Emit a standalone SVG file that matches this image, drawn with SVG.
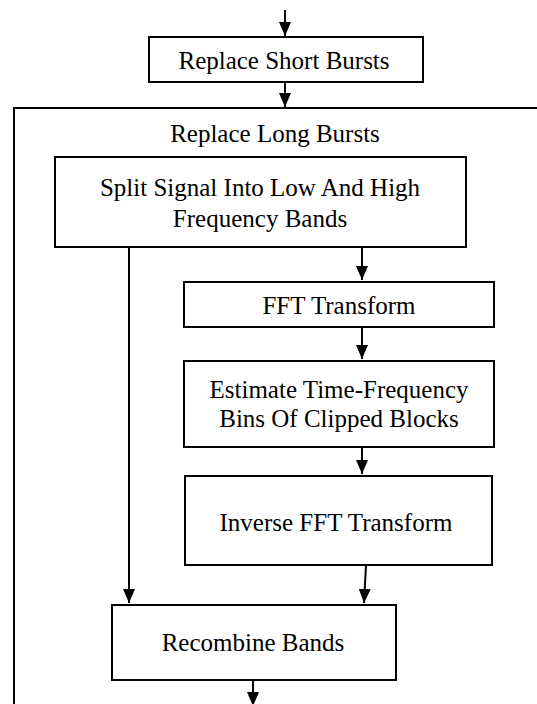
<svg xmlns="http://www.w3.org/2000/svg" width="537" height="704" viewBox="0 0 537 704">
<style>
.box{fill:#fff;stroke:#000;stroke-width:2}
.lbl{font-family:"Liberation Serif","Times New Roman",serif;font-size:25px;fill:#000;text-anchor:middle}
.con{stroke:#000;stroke-width:2;fill:none}
</style>
<defs>
<marker id="ah" markerUnits="userSpaceOnUse" markerWidth="16" markerHeight="16" viewBox="0 0 16 16" refX="14" refY="8" orient="auto">
<path d="M0,2 L14,8 L0,14 Z" fill="#000"/>
</marker>
</defs>
<g id="outer">
<path class="con" d="M545,108 H14 V712"/>
<text class="lbl" x="275" y="142">Replace Long Bursts</text>
</g>
<g id="short">
<rect class="box" x="149" y="37" width="274" height="45"/>
<text class="lbl" x="284" y="69">Replace Short Bursts</text>
</g>
<g id="split">
<rect class="box" x="55" y="157" width="411" height="90"/>
<text class="lbl" x="260" y="196">Split Signal Into Low And High</text>
<text class="lbl" x="260" y="227">Frequency Bands</text>
</g>
<g id="fft">
<rect class="box" x="184" y="282" width="310" height="45"/>
<text class="lbl" x="339" y="314">FFT Transform</text>
</g>
<g id="estimate">
<rect class="box" x="184" y="361" width="310" height="86"/>
<text class="lbl" x="339" y="398">Estimate Time-Frequency</text>
<text class="lbl" x="339" y="427">Bins Of Clipped Blocks</text>
</g>
<g id="inverse">
<rect class="box" x="185" y="476" width="307" height="89"/>
<text class="lbl" x="336" y="531">Inverse FFT Transform</text>
</g>
<g id="recombine">
<rect class="box" x="112" y="605" width="284" height="75"/>
<text class="lbl" x="253" y="651">Recombine Bands</text>
</g>
<g id="connectors">
<line class="con" x1="285" y1="10" x2="285" y2="36" marker-end="url(#ah)"/>
<line class="con" x1="285" y1="82" x2="285" y2="107" marker-end="url(#ah)"/>
<line class="con" x1="129" y1="247" x2="129" y2="603" marker-end="url(#ah)"/>
<line class="con" x1="362" y1="247" x2="362" y2="280" marker-end="url(#ah)"/>
<line class="con" x1="362" y1="327" x2="362" y2="359" marker-end="url(#ah)"/>
<line class="con" x1="362" y1="447" x2="362" y2="474" marker-end="url(#ah)"/>
<line class="con" x1="366" y1="565" x2="364" y2="603" marker-end="url(#ah)"/>
<line class="con" x1="253" y1="680" x2="253" y2="706" marker-end="url(#ah)"/>
</g>
</svg>
